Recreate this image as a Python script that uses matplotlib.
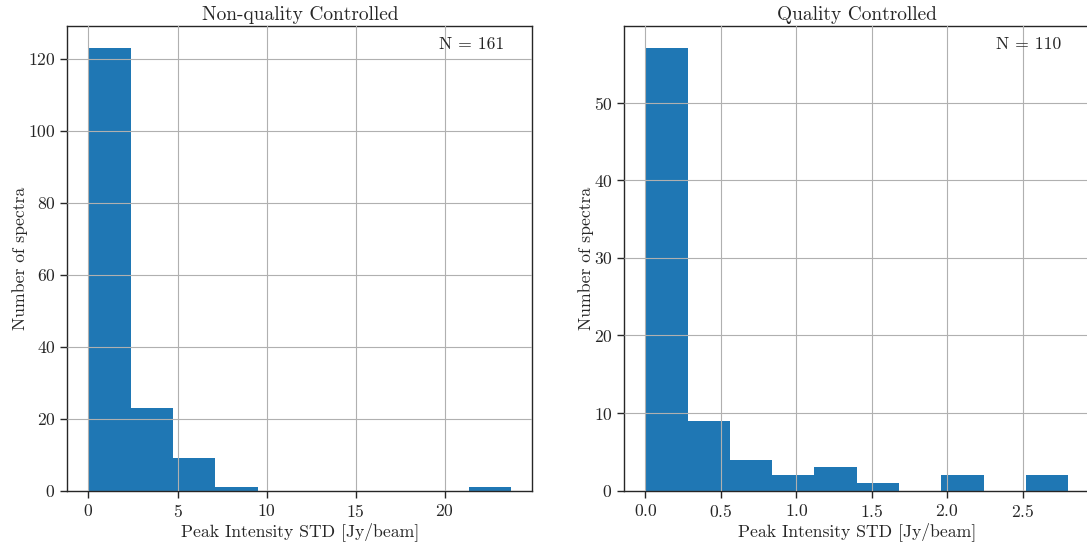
import numpy as np
import matplotlib
matplotlib.use("Agg")
import matplotlib.pyplot as plt

# histogram counts (10 bins each)
nqc_edges = np.linspace(0.0, 23.72, 11)
nqc_counts = [123, 23, 9, 1, 0, 0, 0, 0, 0, 1]
nqc_n = 161

qc_edges = np.linspace(0.0, 2.80, 11)
qc_counts = [57, 9, 4, 2, 3, 1, 0, 2, 0, 2]
qc_n = 110

titles = ["Non-quality Controlled", "Quality Controlled"]

plt.rcParams["font.family"] = "cmr10"
plt.rcParams["mathtext.fontset"] = "cm"
plt.rcParams["axes.formatter.use_mathtext"] = True
plt.rcParams["font.size"] = 12.7
plt.rcParams["text.color"] = ".15"
plt.rcParams["axes.labelcolor"] = ".15"
plt.rcParams["xtick.color"] = ".15"
plt.rcParams["ytick.color"] = ".15"
plt.rcParams["axes.edgecolor"] = ".15"

fig = plt.figure(figsize=(10.87, 5.47), dpi=100)
ax1 = fig.add_axes([0.0619, 0.1029, 0.4278, 0.8495])
ax2 = fig.add_axes([0.5743, 0.1029, 0.4278, 0.8495])

for ax, edges, counts, n, title in [(ax1, nqc_edges, nqc_counts, nqc_n, titles[0]),
                                    (ax2, qc_edges, qc_counts, qc_n, titles[1])]:
    ax.hist(edges[:-1], bins=edges, weights=counts, color="#1f77b4")
    ax.grid(True, color="#b0b0b0", linewidth=0.8)
    ax.set_axisbelow(False)
    ax.set_title(title, fontsize=14, pad=4)
    ax.set_xlabel("Peak Intensity STD [Jy/beam]", labelpad=2)
    ax.set_ylabel("Number of spectra", labelpad=0)
    ax.text(0.94, 0.961, "N = %d" % n, transform=ax.transAxes,
            ha="right", va="center")
    ax.tick_params(direction="out", length=5, width=1.0)
    for s in ax.spines.values():
        s.set_linewidth(1.0)

fig.savefig("out.png", dpi=100)
